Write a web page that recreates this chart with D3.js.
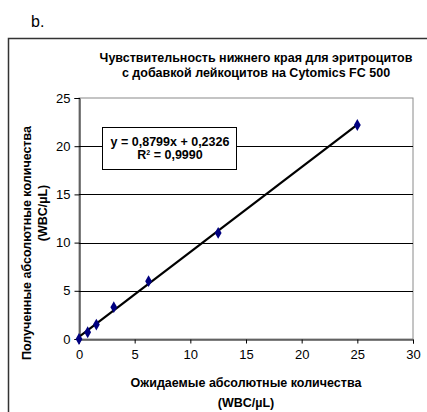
<!DOCTYPE html>
<html>
<head>
<meta charset="utf-8">
<script src="https://cdn.jsdelivr.net/npm/d3@7"></script>
<style>
  body { margin: 0; background: #fff; }
  svg text { font-family: "Liberation Sans", Arial, sans-serif; fill: #000; }
</style>
</head>
<body>
<div id="chart"></div>
<script>
// Values
var expected = [0, 0.78, 1.56, 3.125, 6.25, 12.5, 25]
var observed = [0, 0.7, 1.5, 3.3, 6.0, 11.0, 22.2]
var xTicks = [0, 5, 10, 15, 20, 25, 30]
var yTicks = [0, 5, 10, 15, 20, 25]
var slope = 0.8799, intercept = 0.2326
var eqLines = ["y = 0,8799x + 0,2326", "R", " = 0,9990"]
var titleLines = ["Чувствительность нижнего края для эритроцитов", "с добавкой лейкоцитов на Cytomics FC 500"]
var xTitle = ["Ожидаемые абсолютные количества", "(WBC/µL)"]
var yTitle = ["Полученные абсолютные количества", "(WBC/µL)"]

var width = 427, height = 412
var labelSize = "12.5px"

var svg = d3.select("#chart")
    .append("svg")
    .attr("width", width)
    .attr("height", height)

// panel letter
svg.append("text")
    .attr("x", 31)
    .attr("y", 27)
    .attr("font-size", "16px")
    .style("font-family", "'Liberation Sans Narrow', 'Liberation Sans', Arial, sans-serif")
    .text("b.")

// outer chart frame (runs off the right and bottom edges)
svg.append("rect")
    .attr("x", 8.5)
    .attr("y", 38.5)
    .attr("width", 440)
    .attr("height", 400)
    .attr("fill", "none")
    .attr("stroke", "#333")
    .attr("stroke-width", 1.5)

// scales
var x = d3.scaleLinear().domain([0, 30]).range([79, 413])
var y = d3.scaleLinear().domain([0, 25]).range([339, 98])

// plot area border (grey top/right)
svg.append("rect")
    .attr("x", x(0))
    .attr("y", y(25))
    .attr("width", x(30) - x(0))
    .attr("height", y(0) - y(25))
    .attr("fill", "#fff")
    .attr("stroke", "#8a8a8a")
    .attr("stroke-width", 1)

// gridlines
svg.append("g")
    .selectAll("line")
    .data(yTicks.filter(function(d) { return d > 0 && d < 25 }))
    .enter()
    .append("line")
    .attr("x1", x(0))
    .attr("x2", x(30))
    .attr("y1", function(d) { return Math.round(y(d)) + 0.5 })
    .attr("y2", function(d) { return Math.round(y(d)) + 0.5 })
    .attr("stroke", "#000")
    .attr("stroke-width", 1)

// axes
var xAxis = svg.append("g")
    .attr("transform", "translate(0," + (y(0) + 0.5) + ")")
    .call(d3.axisBottom(x).tickValues(xTicks).tickSize(4).tickPadding(6))
var yAxis = svg.append("g")
    .attr("transform", "translate(" + (x(0) + 0.5) + ",0)")
    .call(d3.axisLeft(y).tickValues(yTicks).tickSize(5).tickPadding(4))

;[xAxis, yAxis].forEach(function(a) {
    a.selectAll("path").attr("stroke", "#000")
    a.selectAll("line").attr("stroke", "#000")
    a.selectAll("text")
        .attr("font-size", "13px")
        .style("font-family", "'Liberation Sans', Arial, sans-serif")
})

// trendline
svg.append("line")
    .attr("x1", x(0))
    .attr("y1", y(intercept))
    .attr("x2", x(d3.max(expected)))
    .attr("y2", y(slope * d3.max(expected) + intercept))
    .attr("stroke", "#000")
    .attr("stroke-width", 2.2)

// data markers
var pts = expected.map(function(d, i) { return { x: d, y: observed[i] } })
svg.append("g")
    .selectAll("path")
    .data(pts)
    .enter()
    .append("path")
    .attr("d", d3.symbol().type(d3.symbolDiamond).size(40))
    .attr("transform", function(d) { return "translate(" + x(d.x) + "," + y(d.y) + ")" })
    .attr("fill", "#000080")

// equation box
var box = svg.append("g")
box.append("rect")
    .attr("x", 102.5)
    .attr("y", 127.5)
    .attr("width", 134)
    .attr("height", 42)
    .attr("fill", "#fff")
    .attr("stroke", "#000")
    .attr("stroke-width", 1)
box.append("text")
    .attr("x", 170)
    .attr("y", 146)
    .attr("text-anchor", "middle")
    .attr("font-size", labelSize)
    .attr("font-weight", "bold")
    .text(eqLines[0])
var r2 = box.append("text")
    .attr("x", 170)
    .attr("y", 159)
    .attr("text-anchor", "middle")
    .attr("font-size", labelSize)
    .attr("font-weight", "bold")
r2.append("tspan").text(eqLines[1])
r2.append("tspan").attr("dy", -4).attr("font-size", "7px").text("2")
r2.append("tspan").attr("dy", 4).text(eqLines[2])

// chart title
svg.append("g")
    .selectAll("text")
    .data(titleLines)
    .enter()
    .append("text")
    .attr("x", 256)
    .attr("y", function(d, i) { return 62 + i * 14.5 })
    .attr("text-anchor", "middle")
    .attr("font-size", labelSize)
    .attr("font-weight", "bold")
    .text(function(d) { return d })

// x axis title
svg.append("g")
    .selectAll("text")
    .data(xTitle)
    .enter()
    .append("text")
    .attr("x", 246)
    .attr("y", function(d, i) { return 387 + i * 20 })
    .attr("text-anchor", "middle")
    .attr("font-size", labelSize)
    .attr("font-weight", "bold")
    .text(function(d) { return d })

// y axis title
svg.append("text")
    .attr("transform", "translate(31,243) rotate(-90)")
    .attr("text-anchor", "middle")
    .attr("font-size", labelSize)
    .attr("font-weight", "bold")
    .text(yTitle[0])
svg.append("text")
    .attr("transform", "translate(47,213) rotate(-90)")
    .attr("text-anchor", "middle")
    .attr("font-size", labelSize)
    .attr("font-weight", "bold")
    .text(yTitle[1])
</script>
</body>
</html>
